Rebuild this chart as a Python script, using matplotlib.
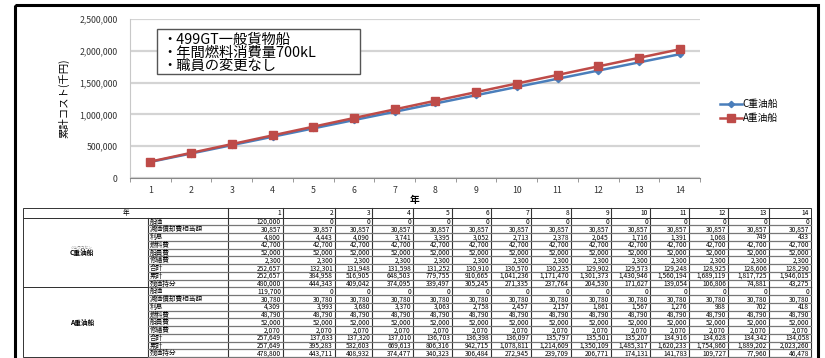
import matplotlib
matplotlib.use("Agg")
import matplotlib.pyplot as plt
from matplotlib.patches import Rectangle

plt.rcParams['font.family'] = ['Noto Sans CJK JP', 'DejaVu Sans']

# ---- data ----
years = list(range(1, 15))
items = ['船価', '減価償却費相当額', '利息', '燃料費', '船員費', '修繕費', '合計', '累計', '残価持分']

c_price = [120000] + [0] * 13
c_depr = [30857] * 14
c_interest = [4800, 4443, 4090, 3741, 3395, 3052, 2713, 2378, 2045, 1716, 1391, 1068, 749, 433]
c_fuel = [42700] * 14
c_crew = [52000] * 14
c_repair = [2300] * 14
c_total = [252657, 132301, 131948, 131598, 131252, 130910, 130570, 130235, 129902, 129573,
           129248, 128925, 128606, 128290]
c_cumulative = [252657, 384958, 516905, 648503, 779755, 910665, 1041236, 1171470, 1301373,
                1430946, 1560194, 1689119, 1817725, 1946015]
c_residual = [480000, 444343, 409042, 374095, 339497, 305245, 271335, 237764, 204530, 171627,
              139054, 106806, 74881, 43275]

a_price = [119700] + [0] * 13
a_depr = [30780] * 14
a_interest = [4309, 3993, 3680, 3370, 3063, 2758, 2457, 2157, 1861, 1567, 1276, 988, 702, 418]
a_fuel = [48790] * 14
a_crew = [52000] * 14
a_repair = [2070] * 14
a_total = [257649, 137633, 137320, 137010, 136703, 136398, 136097, 135797, 135501, 135207,
           134916, 134628, 134342, 134058]
a_cumulative = [257649, 395283, 532603, 669613, 806316, 942715, 1078811, 1214609, 1350109,
                1485317, 1620233, 1754860, 1889202, 2023260]
a_residual = [478800, 443711, 408932, 374477, 340323, 306484, 272945, 239709, 206771, 174131,
              141783, 109727, 77960, 46478]

c_rows = [c_price, c_depr, c_interest, c_fuel, c_crew, c_repair, c_total, c_cumulative, c_residual]
a_rows = [a_price, a_depr, a_interest, a_fuel, a_crew, a_repair, a_total, a_cumulative, a_residual]

notes = ['・499GT一般貨物船', '・年間燃料消費量700kL', '・職員の変更なし']

W, H = 825, 358
fig = plt.figure(figsize=(W / 100, H / 100), dpi=100)


def pixel_layer():
    # full-figure axes measured in pixels from the top-left corner
    lay = fig.add_axes([0, 0, 1, 1])
    lay.set_xlim(0, W)
    lay.set_ylim(H, 0)
    lay.axis('off')
    return lay


bg = pixel_layer()
bg.add_patch(Rectangle((14.5, 5), 803.5, 400, fill=False, ec='black', lw=2.2))

# table geometry
col_x = [228, 283, 335, 372, 413, 452, 491, 531, 571, 611, 650, 689, 728, 769, 811]
tab_left, item_left = 23, 148
head_top, head_bot = 207.5, 217.7
row_h = 7.75
grid = '#333333'
fs_tab = 4.8

# header row
bg.add_patch(Rectangle((tab_left, head_top), col_x[-1] - tab_left, head_bot - head_top,
                       fill=False, ec=grid, lw=0.7))
bg.text((tab_left + col_x[0]) / 2, (head_top + head_bot) / 2, '年', fontsize=fs_tab,
        ha='center', va='center')
for k, yr in enumerate(years):
    bg.plot([col_x[k], col_x[k]], [head_top, head_bot], color=grid, lw=0.8)
    bg.text(col_x[k + 1] - 2, (head_top + head_bot) / 2, str(yr), fontsize=fs_tab,
            ha='right', va='center')


def draw_block(top, name, rows, ruby=None):
    bottom = top + row_h * len(rows)
    bg.add_patch(Rectangle((tab_left, top), col_x[-1] - tab_left, bottom - top,
                           fill=False, ec=grid, lw=0.7))
    mid = (top + bottom) / 2
    bg.text(82, mid, name, fontsize=fs_tab, ha='center', va='center', weight='bold')
    if ruby:
        bg.text(82, mid - 4.5, ruby, fontsize=2.6, ha='center', va='center', color='#777777')
    for x in [item_left] + col_x:
        bg.plot([x, x], [top, bottom], color=grid, lw=0.8)
    for r, (label, vals) in enumerate(zip(items, rows)):
        y0 = top + r * row_h
        bg.plot([item_left, col_x[-1]], [y0 + row_h, y0 + row_h], color='#777777', lw=0.9)
        bg.text(item_left + 1.5, y0 + row_h / 2, label, fontsize=fs_tab, ha='left', va='center')
        for k, v in enumerate(vals):
            bg.text(col_x[k + 1] - 2, y0 + row_h / 2 + 0.3, f'{v:,}', fontsize=fs_tab,
                    ha='right', va='center')
    return bottom


c_bottom = draw_block(head_bot, 'C重油船', c_rows, ruby='ジュウユセン')
draw_block(c_bottom, 'A重油船', a_rows)

# ---- cumulative cost chart ----
ax = fig.add_axes([130 / W, 1 - 178 / H, 570 / W, 159 / H])
ax.plot(years, c_cumulative, color='#4A7EBB', lw=1.8, marker='D', ms=3.2,
        label='C重油船', zorder=3)
ax.plot(years, a_cumulative, color='#BE4B48', lw=1.8, marker='s', ms=5.8,
        label='A重油船', zorder=4)

ax.set_xlim(0.5, 14.5)
ax.set_ylim(0, 2500000)
ax.set_yticks(range(0, 2500001, 500000))
ax.yaxis.set_major_formatter(matplotlib.ticker.FuncFormatter(lambda v, p: f'{int(v):,}'))
ax.set_xticks(years)
ax.set_xticks([k + 0.5 for k in range(0, 15)], minor=True)
ax.tick_params(axis='x', which='major', length=0, labelsize=6.3, pad=6, colors='#333333')
ax.tick_params(axis='x', which='minor', length=3, color='#888888', direction='out')
ax.tick_params(axis='y', length=0, labelsize=6.3, pad=9, colors='#333333')
ax.grid(axis='y', color='#d4d4d4', lw=1.6)
ax.set_axisbelow(True)
for s in ['top', 'right']:
    ax.spines[s].set_visible(False)
ax.spines['left'].set_color('#c8c8c8')
ax.spines['bottom'].set_color('#888888')

ax.set_xlabel('年', fontsize=7, labelpad=0, weight='bold')
ax.set_ylabel('累計コスト(千円)', fontsize=7.5, labelpad=7)

ax.legend(loc='center left', bbox_to_anchor=(1.02, 0.42), frameon=False, fontsize=7,
          handlelength=2.2, handletextpad=0.1, labelspacing=0.45)

# notes box on top of the chart
top_layer = pixel_layer()
top_layer.add_patch(Rectangle((157, 29), 203, 45, fc='white', ec='#555555', lw=1))
for i, line in enumerate(notes):
    top_layer.text(162, 40 + i * 13, line, fontsize=10.3, ha='left', va='center')

fig.savefig('out.png', dpi=100)
